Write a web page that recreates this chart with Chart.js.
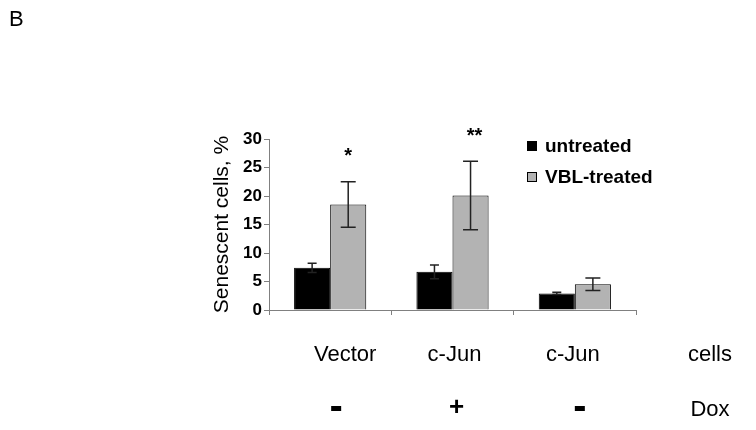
<!DOCTYPE html>
<html>
<head>
<meta charset="utf-8">
<script src="https://cdn.jsdelivr.net/npm/chart.js@4/dist/chart.umd.min.js"></script>
<style>
  html, body { margin: 0; padding: 0; background: #fff; }
  #wrap { position: relative; width: 756px; height: 430px; }
</style>
</head>
<body>
<div id="wrap"><canvas id="myChart" width="756" height="430"></canvas></div>
<script>
// data
const groups = ['Vector', 'c-Jun', 'c-Jun'];
const doxRow = ['-', '+', '-'];
const untreated = [7.4, 6.7, 2.9];
const untreatedErr = [0.8, 1.2, 0.2];
const vblTreated = [18.5, 20.1, 4.5];
const vblErr = [4.0, 6.0, 1.1];
const stars = ['*', '**', ''];
const yTicks = [0, 5, 10, 15, 20, 25, 30];

const FONT = '"Liberation Sans", Arial, sans-serif';

const errorBars = {
  id: 'errorBars',
  afterDatasetsDraw(chart) {
    const ctx = chart.ctx;
    const y = chart.scales.y;
    const errs = [untreatedErr, vblErr];
    const caps = [9, 15];
    ctx.save();
    ctx.strokeStyle = '#222';
    ctx.lineWidth = 1.5;
    chart.data.datasets.forEach((ds, i) => {
      const meta = chart.getDatasetMeta(i);
      meta.data.forEach((bar, j) => {
        const v = ds.data[j], e = errs[i][j];
        const top = y.getPixelForValue(v + e);
        const bot = y.getPixelForValue(v - e);
        const x = bar.x;
        ctx.beginPath();
        ctx.moveTo(x, top); ctx.lineTo(x, bot);
        ctx.moveTo(x - caps[i] / 2, top); ctx.lineTo(x + caps[i] / 2, top);
        ctx.moveTo(x - caps[i] / 2, bot); ctx.lineTo(x + caps[i] / 2, bot);
        ctx.stroke();
      });
    });
    ctx.restore();
  }
};

const extras = {
  id: 'extras',
  afterDraw(chart) {
    const ctx = chart.ctx;
    const x = chart.scales.x, y = chart.scales.y;
    const gray = chart.getDatasetMeta(1);
    ctx.save();
    ctx.fillStyle = '#000';
    ctx.textAlign = 'center';
    ctx.textBaseline = 'middle';

    // significance marks
    ctx.font = 'bold 20px ' + FONT;
    stars.forEach((s, j) => {
      if (!s) return;
      const top = y.getPixelForValue(vblTreated[j] + vblErr[j]);
      ctx.fillText(s, gray.data[j].x + (s.length - 1) * 4, top - 25);
    });

    // rows under the axis
    const nudge = [15, 2, -2];
    const doxNudge = [6, 4, 5];
    ctx.font = '22px ' + FONT;
    groups.forEach((g, j) => ctx.fillText(g, x.getPixelForValue(j) + nudge[j], 355));
    ctx.fillText('cells', 710, 355);
    doxRow.forEach((d, j) => {
      const cx = x.getPixelForValue(j) + doxNudge[j];
      if (d === '-') {
        ctx.fillRect(cx - 5, 406, 10, 5);
      } else {
        ctx.font = 'bold 26px ' + FONT;
        ctx.fillText(d, cx, 408);
      }
    });
    ctx.font = '22px ' + FONT;
    ctx.fillText('Dox', 710, 410);

    // legend
    ctx.textAlign = 'left';
    ctx.font = 'bold 19px ' + FONT;
    chart.data.datasets.forEach((ds, i) => {
      const ly = 146 + i * 31;
      ctx.fillStyle = ds.backgroundColor;
      ctx.fillRect(527, ly - 5, 10, 10);
      ctx.strokeStyle = '#000';
      ctx.lineWidth = 1;
      ctx.strokeRect(527.5, ly - 4.5, 9, 9);
      ctx.fillStyle = '#000';
      ctx.fillText(ds.label, 545, ly + 1);
    });

    // panel letter
    ctx.font = '22px ' + FONT;
    ctx.textBaseline = 'top';
    ctx.fillText('B', 9, 9);
    ctx.restore();
  }
};

new Chart(document.getElementById('myChart').getContext('2d'), {
  type: 'bar',
  data: {
    labels: groups,
    datasets: [
      { label: 'untreated', data: untreated, backgroundColor: '#000000', borderColor: '#000', borderWidth: 1 },
      { label: 'VBL-treated', data: vblTreated, backgroundColor: '#b3b3b3', borderColor: '#000', borderWidth: 1 }
    ]
  },
  options: {
    responsive: false,
    animation: false,
    layout: { padding: { left: 200, right: 120, top: 139, bottom: 112 } },
    datasets: { bar: { barPercentage: 1, categoryPercentage: 0.59 } },
    plugins: { legend: { display: false }, tooltip: { enabled: false } },
    scales: {
      x: {
        afterFit: s => { s.height = 8; },
        ticks: { display: false },
        grid: { drawOnChartArea: false, tickLength: 5, color: '#808080', offset: true },
        border: { color: '#808080', width: 1 }
      },
      y: {
        min: 0, max: 30,
        afterFit: s => { s.width = 69; },
        afterBuildTicks: s => { s.ticks = yTicks.map(v => ({ value: v })); },
        ticks: { color: '#000', padding: 2, font: { family: FONT, size: 17, weight: 'bold' } },
        grid: { drawOnChartArea: false, tickLength: 5, color: '#808080' },
        border: { color: '#808080', width: 1 },
        title: {
          display: true, text: 'Senescent cells, %', color: '#000',
          padding: { top: 10, bottom: 0 },
          font: { family: FONT, size: 21 }
        }
      }
    }
  },
  plugins: [errorBars, extras]
});
</script>
</body>
</html>
